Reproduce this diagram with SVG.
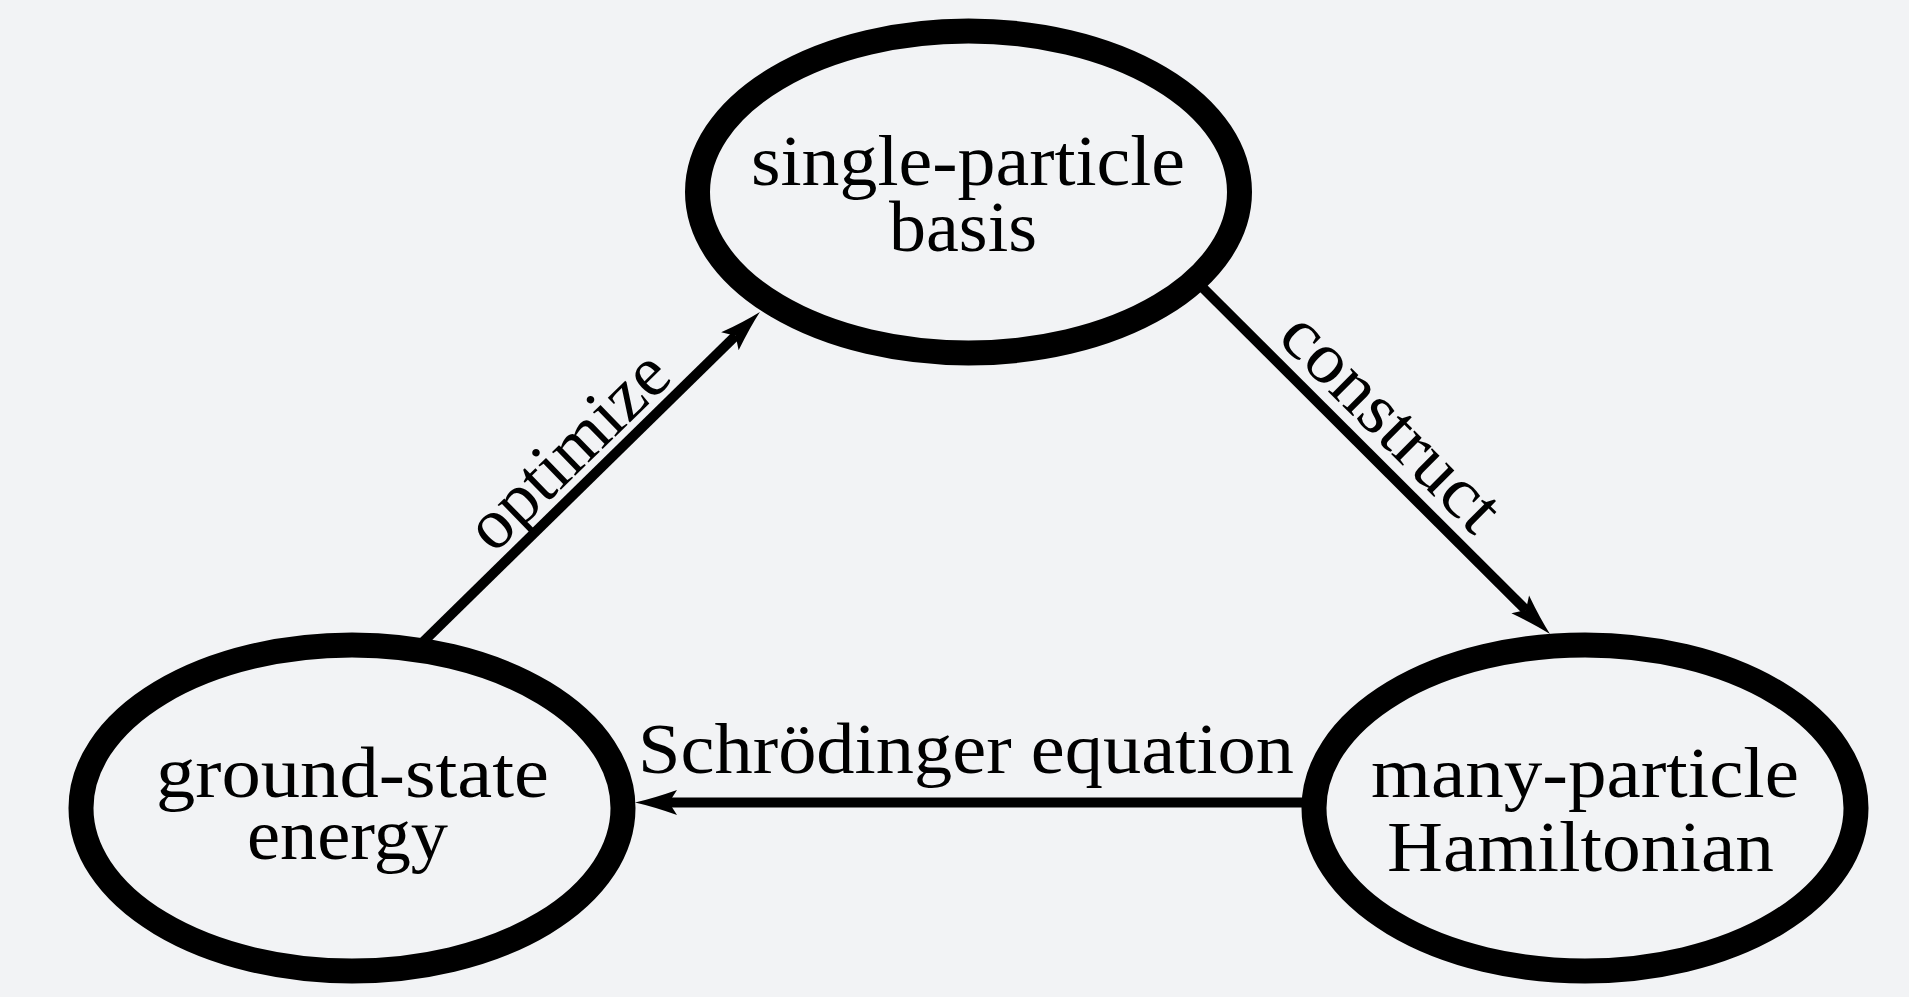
<svg xmlns="http://www.w3.org/2000/svg" width="1909" height="997" viewBox="0 0 1909 997">
<style>
.bg{fill:#f2f3f5}
.node{fill:none;stroke:#000;stroke-width:25}
.lbl{font-family:"Liberation Serif","Times New Roman",serif;font-size:72px;fill:#000;text-anchor:middle}
.edge{fill:none;stroke:#000;stroke-width:10;marker-end:url(#stealth)}
</style>
<defs>
<marker id="stealth" markerUnits="userSpaceOnUse" viewBox="-10 -14 46 28" markerWidth="46" markerHeight="28" refX="0" refY="0" orient="auto">
<path d="M34,0 Q16,4 -8,12.5 L0,0 L-8,-12.5 Q16,-4 34,0 Z" fill="#000"/>
</marker>
</defs>
<rect class="bg" x="0" y="0" width="1909" height="997"/>
<g id="connectors">
<g id="edge-optimize">
<line class="edge" x1="420" y1="645" x2="735.6" y2="335.7"/>
<text class="lbl" transform="translate(584,467) rotate(-44.2)" textLength="252" lengthAdjust="spacingAndGlyphs">optimize</text>
</g>
<g id="edge-construct">
<line class="edge" x1="1200" y1="285" x2="1525.9" y2="610"/>
<text class="lbl" transform="translate(1375,438) rotate(44.8)" textLength="280" lengthAdjust="spacingAndGlyphs">construct</text>
</g>
<g id="edge-schrodinger">
<line class="edge" x1="1310" y1="802.5" x2="669" y2="802.5"/>
<text class="lbl" x="966" y="773" textLength="656" lengthAdjust="spacingAndGlyphs">Schrödinger equation</text>
</g>
</g>
<g id="node-basis">
<ellipse class="node" cx="968.5" cy="192" rx="271" ry="161"/>
<text class="lbl" x="968" y="185" textLength="434" lengthAdjust="spacingAndGlyphs">single-particle</text>
<text class="lbl" x="963" y="251" textLength="148" lengthAdjust="spacingAndGlyphs">basis</text>
</g>
<g id="node-energy">
<ellipse class="node" cx="352" cy="808" rx="271" ry="163"/>
<text class="lbl" x="352.5" y="797" textLength="393" lengthAdjust="spacingAndGlyphs">ground-state</text>
<text class="lbl" x="347.5" y="859" textLength="201" lengthAdjust="spacingAndGlyphs">energy</text>
</g>
<g id="node-hamiltonian">
<ellipse class="node" cx="1585" cy="808" rx="271" ry="163"/>
<text class="lbl" x="1585" y="797" textLength="428" lengthAdjust="spacingAndGlyphs">many-particle</text>
<text class="lbl" x="1580.5" y="871" textLength="387" lengthAdjust="spacingAndGlyphs">Hamiltonian</text>
</g>
</svg>
